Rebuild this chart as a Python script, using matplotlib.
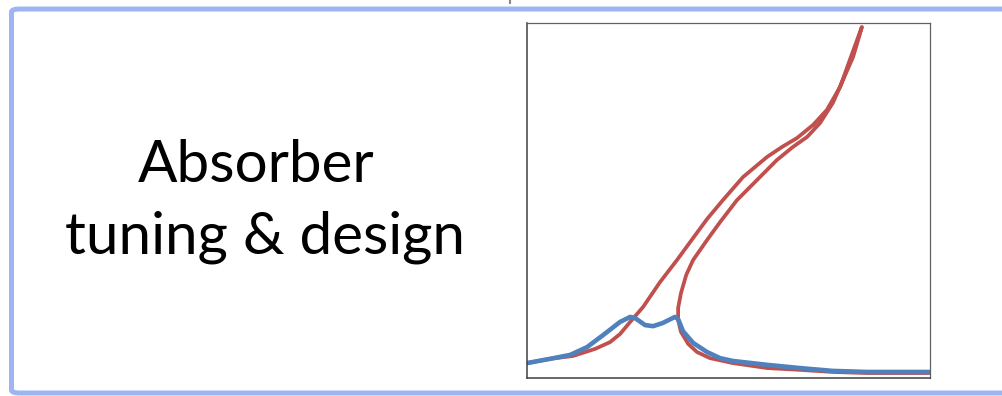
import matplotlib
matplotlib.use("Agg")
from matplotlib import pyplot as plt
from matplotlib.patches import FancyBboxPatch

# red response: lower branch up to the fold tip, then back down the upper-frequency branch
red_freq = [0.500, 0.557, 0.614, 0.669, 0.706, 0.731, 0.756, 0.788, 0.830, 0.872,
            0.912, 0.947, 0.986, 1.036, 1.096, 1.133, 1.170, 1.210, 1.244, 1.277,
            1.301, 1.319, 1.331,
            1.324, 1.309, 1.284, 1.259, 1.227, 1.195, 1.160, 1.120, 1.071, 1.021,
            0.979, 0.947, 0.912, 0.895, 0.882, 0.875, 0.875, 0.882, 0.900, 0.922,
            0.954, 1.011, 1.096, 1.177, 1.259, 1.344, 1.426, 1.500]
red_amp = [0.42, 0.54, 0.62, 0.82, 1.01, 1.24, 1.58, 2.00, 2.70, 3.32,
           3.94, 4.48, 5.01, 5.66, 6.23, 6.51, 6.76, 7.13, 7.55, 8.20,
           8.96, 9.52, 9.89,
           9.61, 9.04, 8.39, 7.75, 7.18, 6.79, 6.51, 6.14, 5.58, 5.01,
           4.39, 3.89, 3.32, 2.90, 2.39, 1.97, 1.63, 1.30, 0.96, 0.73,
           0.56, 0.42, 0.28, 0.23, 0.17, 0.14, 0.14, 0.14]

# blue response with the tuned absorber (two small peaks)
blue_freq = [0.500, 0.557, 0.607, 0.649, 0.689, 0.731, 0.756, 0.768, 0.793, 0.813,
             0.837, 0.867, 0.875, 0.887, 0.912, 0.947, 0.979, 1.011, 1.096, 1.177,
             1.259, 1.344, 1.426, 1.500]
blue_amp = [0.42, 0.54, 0.65, 0.87, 1.21, 1.58, 1.72, 1.69, 1.49, 1.46,
            1.55, 1.72, 1.66, 1.32, 0.99, 0.73, 0.56, 0.48, 0.37, 0.28,
            0.20, 0.17, 0.17, 0.17]

title_lines = ["Absorber", "tuning & design"]

W, H = 1003, 396
fig = plt.figure(figsize=(W / 100, H / 100), dpi=100)
fig.patch.set_facecolor("white")

# slide frame, light blue with rounded corners (right side runs off the edge)
frame = FancyBboxPatch((11.5 / W, 3 / H), 1.2, (393 - 11) / H + 0.005,
                       boxstyle="round,pad=0,rounding_size=0.008",
                       transform=fig.transFigure, facecolor="none",
                       edgecolor="#9DB5F2", linewidth=3.6, zorder=0)
fig.add_artist(frame)

# little stray mark at the top edge
fig.add_artist(plt.Line2D([510 / W, 510 / W], [1 - 0 / H, 1 - 3 / H],
                          transform=fig.transFigure, color="#888888", linewidth=1.5))

ax = fig.add_axes([527 / W, 18 / H, 403 / W, 355 / H])
ax.plot(red_freq, red_amp, color="#C0504D", linewidth=2.7,
        solid_joinstyle="round", solid_capstyle="round")
ax.plot(blue_freq, blue_amp, color="#4F81BD", linewidth=3.3,
        solid_joinstyle="round", solid_capstyle="round")
ax.set_xlim(0.5, 1.5)
ax.set_ylim(0, 10)
ax.set_xticks([])
ax.set_yticks([])
for side in ["left", "bottom"]:
    ax.spines[side].set_color("#404040")
    ax.spines[side].set_linewidth(1.1)
for side in ["top", "right"]:
    ax.spines[side].set_color("#606060")
    ax.spines[side].set_linewidth(0.9)

fig.text(256 / W, 1 - 182 / H, title_lines[0], family="Lato", fontsize=42,
         ha="center", va="baseline", color="black")
fig.text(265 / W, 1 - 253 / H, title_lines[1], family="Lato", fontsize=42,
         ha="center", va="baseline", color="black")

fig.savefig("out.png", dpi=100, facecolor="white")
